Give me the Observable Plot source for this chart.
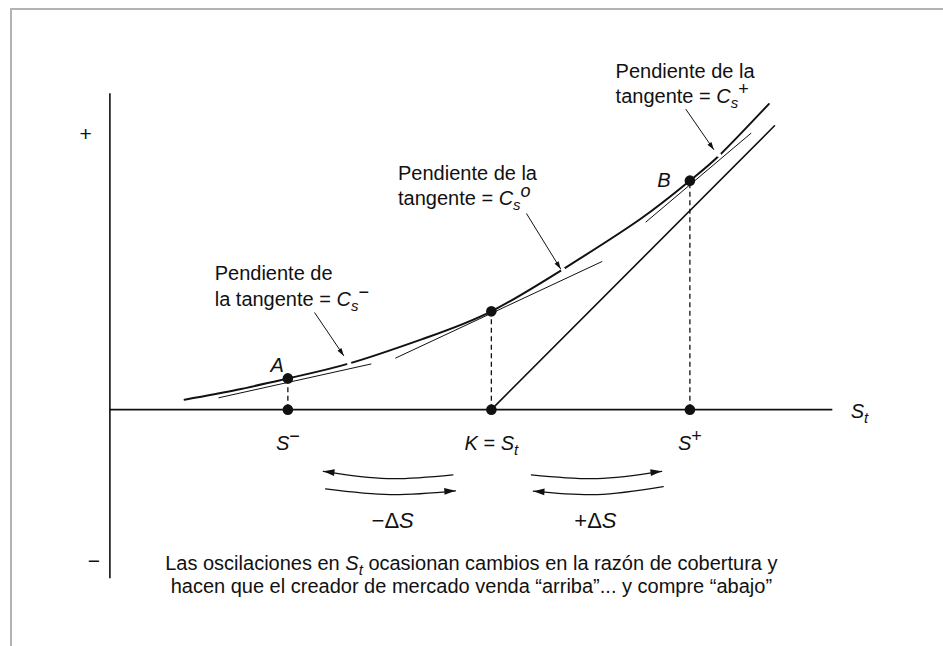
<!DOCTYPE html>
<html><head><meta charset="utf-8">
<script src="https://cdn.jsdelivr.net/npm/d3@7"></script>
<script src="https://cdn.jsdelivr.net/npm/@observablehq/plot@0.6"></script>
<style>
html,body{margin:0;padding:0;background:#fff;}
#wrap{position:relative;width:943px;height:646px;overflow:hidden;background:#fff;}
#frame{position:absolute;left:10px;top:8px;width:1000px;height:700px;border-top:2.5px solid #b3b3b5;border-left:2.5px solid #b3b3b5;pointer-events:none;}
svg{position:absolute;left:0;top:0;}
</style></head><body><div id="wrap"></div>
<script>
// ---------- data (S = stock price, C = option value; strike K = 100) ----------
const curveS = [19.6, 33.4, 46.7, 63.1, 82.8, 100.1, 119.6, 139.3, 152.2, 160.3, 172.9];
const curveC = [2.6, 5.2, 8.2, 12.2, 18.8, 25.8, 37.3, 50.1, 60.1, 67.1, 80.2];

const payoffS = [100.1, 174.4];
const payoffC = [0, 74.5];

const pointS = [46.7, 100.1, 152.2];
const pointC = [8.2, 25.8, 60.1];

const tangentS1 = [28.5, 74.9, 140.6];
const tangentC1 = [3.1, 13.5, 49.2];
const tangentS2 = [68.6, 129.2, 168.3];
const tangentC2 = [12.0, 38.9, 72.6];

const pointerS1 = [53.7, 109.3, 151.1];
const pointerC1 = [25.5, 51.5, 78.9];
const pointerS2 = [61.4, 118.3, 158.5];
const pointerC2 = [14.1, 36.9, 68.2];

const gapS = [62.8, 118.9, 159.9];
const gapC = [12.1, 36.8, 66.8];

const swingS = [[90.0, 72.8, 56.0], [56.6, 73.6, 90.7], [110.6, 127.9, 144.8], [145.2, 127.9, 111.1]];
const swingC = [[-17.1, -18.1, -16.2], [-20.8, -22.3, -21.3], [-17.1, -18.1, -16.2], [-20.2, -22.3, -21.4]];

const axisS = [0, 189.7];
const axisC = [-44.4, 82.9];

const noteText = ["Pendiente de\nla tangente = *C*_s_^−^", "Pendiente de la\ntangente = *C*_s_^o^", "Pendiente de la\ntangente = *C*_s_^+^"];
const noteS = [27.5, 75.6, 132.7];
const noteC = [32.8, 59.1, 85.9];

const letterText = ["*A*", "*B*"];
const letterS = [43.9, 145.4];
const letterC = [11.5, 60.1];

const tickText = ["*S*^−^", "*K* = *S*_t_", "*S*^+^"];
const tickC = -8.9;

const axisLabel = "*S*_t_";
const axisLabelS = 194.4, axisLabelC = -0.5;

const swingText = ["−Δ*S*", "+Δ*S*"];
const swingLabelS = [74.2, 127.4];
const swingLabelC = -29.1;

const signText = ["+", "−"];
const signS = [-6.4, -4.2];
const signC = [72.2, -39.9];

const captionText = "Las oscilaciones en *S*_t_ ocasionan cambios en la razón de cobertura y\nhacen que el creador de mercado venda “arriba”... y compre “abajo”";

// ---------- build tables ----------
const curve = curveS.map((s, i) => ({S: s, C: curveC[i]}));
const payoff = payoffS.map((s, i) => ({S: s, C: payoffC[i]}));
const points = pointS.map((s, i) => ({S: s, C: pointC[i]}));
const tangents = tangentS1.map((s, i) => ({S1: s, C1: tangentC1[i], S2: tangentS2[i], C2: tangentC2[i]}));
const pointers = pointerS1.map((s, i) => ({S1: s, C1: pointerC1[i], S2: pointerS2[i], C2: pointerC2[i]}));
const pointerHeads = pointers.map(d => ({S: d.S2, C: d.C2, fromS: d.S1, fromC: d.C1}));
const gaps = gapS.map((s, i) => ({S: s, C: gapC[i]}));
const swings = swingS.flatMap((arr, k) => arr.map((s, i) => ({id: k, S: s, C: swingC[k][i]})));
const swingHeads = swingS.map((arr, k) => ({S: arr[2], C: swingC[k][2], fromS: arr[1], fromC: swingC[k][1]}));
const notes = noteText.map((t, i) => ({t, S: noteS[i], C: noteC[i]}));
const letters = letterText.map((t, i) => ({t, S: letterS[i], C: letterC[i]}));
const ticks = tickText.map((t, i) => ({t, S: pointS[i], C: tickC}));
const swingLabels = swingText.map((t, i) => ({t, S: swingLabelS[i], C: swingLabelC}));
const signs = signText.map((t, i) => ({t, S: signS[i], C: signC[i]}));

const arrowHead = {
  draw(ctx, size) {
    const r = Math.sqrt(size / Math.PI);
    ctx.moveTo(0, 0);
    ctx.lineTo(-0.85 * r, 2.8 * r);
    ctx.lineTo(0.85 * r, 2.8 * r);
    ctx.closePath();
  }
};
const headAngle = d => Math.atan2(d.S - d.fromS, d.C - d.fromC) * 180 / Math.PI;
const ink = "#111";

const plot = Plot.plot({
  width: 943, height: 646,
  marginLeft: 109.4, marginRight: 110.7, marginTop: 93.3, marginBottom: 67.7,
  x: {domain: axisS, axis: null},
  y: {domain: axisC, axis: null},
  style: {fontFamily: "'Liberation Sans', Arial, sans-serif", fontSize: "20px", background: "transparent", overflow: "visible", color: ink},
  marks: [
    Plot.ruleY([0], {x1: axisS[0], x2: axisS[1], stroke: ink, strokeWidth: 1.6}),
    Plot.ruleX([0], {y1: axisC[0], y2: axisC[1], stroke: ink, strokeWidth: 1.6}),
    Plot.line(curve, {x: "S", y: "C", curve: "natural", stroke: ink, strokeWidth: 2}),
    Plot.line(payoff, {x: "S", y: "C", stroke: ink, strokeWidth: 1.6}),
    Plot.dot(gaps, {x: "S", y: "C", r: 2.2, fill: "white"}),
    Plot.link(tangents, {x1: "S1", y1: "C1", x2: "S2", y2: "C2", stroke: ink, strokeWidth: 1}),
    Plot.ruleX(points, {x: "S", y1: 0, y2: "C", stroke: ink, strokeWidth: 1.3, strokeDasharray: "5,3.5"}),
    Plot.dot(points, {x: "S", y: "C", r: 5.3, fill: ink}),
    Plot.dot(points, {x: "S", y: 0, r: 5.3, fill: ink}),
    Plot.link(pointers, {x1: "S1", y1: "C1", x2: "S2", y2: "C2", stroke: ink, strokeWidth: 1}),
    Plot.dot(pointerHeads, {x: "S", y: "C", r: 2.8, symbol: arrowHead, rotate: headAngle, fill: ink}),
    Plot.line(swings, {x: "S", y: "C", z: "id", curve: "natural", stroke: ink, strokeWidth: 1.3}),
    Plot.dot(swingHeads, {x: "S", y: "C", r: 4, symbol: arrowHead, rotate: headAngle, fill: ink}),
    Plot.text(notes, {x: "S", y: "C", text: "t", textAnchor: "start", lineHeight: 1.28, fontSize: 20, fill: ink}),
    Plot.text(letters, {x: "S", y: "C", text: "t", fontSize: 20, fill: ink}),
    Plot.text(ticks, {x: "S", y: "C", text: "t", fontSize: 20, fill: ink}),
    Plot.text([axisLabel], {x: axisLabelS, y: axisLabelC, text: d => d, textAnchor: "start", fontSize: 20, fill: ink}),
    Plot.text(swingLabels, {x: "S", y: "C", text: "t", fontSize: 22, fill: ink}),
    Plot.text(signs, {x: "S", y: "C", text: "t", fontSize: 21, fill: ink}),
    Plot.text([captionText], {frameAnchor: "bottom", dy: 14.2, text: d => d, lineHeight: 1.17, fontSize: 20, fill: ink})
  ]
});

// ---------- rich text: *italic*, _subscript_, ^superscript^ ----------
const NS = "http://www.w3.org/2000/svg";
function enrich(node) {
  const s = node.textContent;
  if (!/[*_^]/.test(s)) return;
  const parts = s.split(/(\*[^*]+\*|_[^_]+_|\^[^^]+\^)/).filter(p => p);
  while (node.firstChild) node.removeChild(node.firstChild);
  let cur = 0;
  for (const p of parts) {
    const t = document.createElementNS(NS, "tspan");
    let txt = p, target = 0;
    if (p[0] === "*") { txt = p.slice(1, -1); t.setAttribute("font-style", "italic"); }
    else if (p[0] === "_") { txt = p.slice(1, -1); t.setAttribute("font-style", "italic"); t.setAttribute("font-size", "15"); target = 5; }
    else if (p[0] === "^") { txt = p.slice(1, -1); if (/[a-z]/i.test(txt)) t.setAttribute("font-style", "italic"); t.setAttribute("font-size", "18"); target = -8; }
    if (target !== cur) t.setAttribute("dy", target - cur);
    cur = target;
    t.textContent = txt;
    node.appendChild(t);
  }
}
plot.querySelectorAll("text").forEach(t => {
  const lines = t.querySelectorAll(":scope > tspan");
  if (lines.length) lines.forEach(enrich); else enrich(t);
});

const wrap = document.getElementById("wrap");
wrap.appendChild(plot);
const frame = document.createElement("div");
frame.id = "frame";
wrap.appendChild(frame);
</script></body></html>
